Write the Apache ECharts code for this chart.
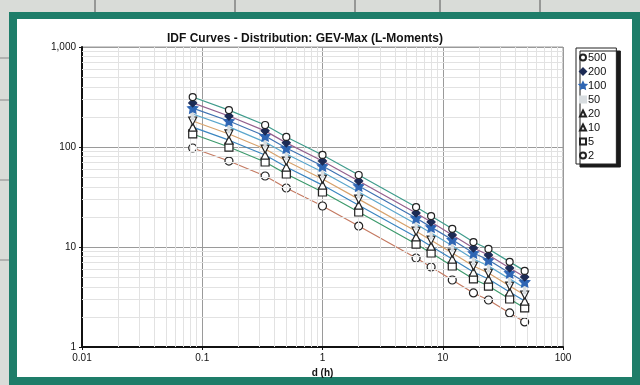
<!DOCTYPE html>
<html><head><meta charset="utf-8">
<script src="https://cdn.jsdelivr.net/npm/echarts@6/dist/echarts.min.js"></script>
<style>html,body{margin:0;padding:0;background:#fff}#c{width:640px;height:385px}</style>
</head><body><div id="c"></div>
<script>
// Durations (h)
const durations = [0.0833, 0.1667, 0.3333, 0.5, 1, 2, 6, 8, 12, 18, 24, 36, 48];
// Return periods (legend order)
const returnPeriods = ['500', '200', '100', '50', '20', '10', '5', '2'];
// Intensities
const i500 = [316, 234, 166, 126, 83.3, 52.5, 25.1, 20.4, 15.2, 11.2, 9.56, 7.10, 5.77];
const i200 = [276, 204, 145, 110, 72.5, 45.7, 21.9, 17.8, 13.2, 9.79, 8.32, 6.18, 5.02];
const i100 = [245, 182, 129, 97.6, 64.5, 40.7, 19.5, 15.8, 11.8, 8.71, 7.40, 5.50, 4.47];
const i50  = [214, 159, 112, 85.2, 56.3, 35.5, 17.0, 13.8, 10.3, 7.60, 6.46, 4.80, 3.90];
const i20  = [182, 135, 95.4, 72.4, 47.8, 30.1, 14.4, 11.7, 8.70, 6.45, 5.49, 4.07, 3.31];
const i10  = [158, 117, 83.1, 63.0, 41.6, 26.2, 12.6, 10.2, 7.58, 5.62, 4.78, 3.55, 2.88];
const i5   = [135, 99.9, 70.8, 53.7, 35.5, 22.4, 10.7, 8.71, 6.46, 4.79, 4.07, 3.02, 2.46];
const i2   = [97.7, 72.4, 51.3, 38.9, 25.7, 16.2, 7.76, 6.31, 4.68, 3.47, 2.95, 2.19, 1.78];
const xTicks = [0.01, 0.1, 1, 10, 100];
const yTicks = [1, 10, 100, 1000];

const seriesValues = [i500, i200, i100, i50, i20, i10, i5, i2];
const star = 'path://M0,-10L2.9,-4L9.5,-3.1L4.7,1.5L5.9,8.1L0,5L-5.9,8.1L-4.7,1.5L-9.5,-3.1L-2.9,-4Z';
const styles = [
  {line: '#3f9c8c', symbol: 'circle', size: 7, fill: '#fff', border: '#222', rot: 0},
  {line: '#94608e', symbol: 'diamond', size: 8, fill: '#1d2b55', border: '#1d2b55', rot: 0},
  {line: '#3f72b2', symbol: star, size: 10, fill: '#2f66b4', border: '#2f66b4', rot: 0},
  {line: '#5aa6cc', symbol: 'rect', size: [2, 8], fill: '#d8dde0', border: '#d8dde0', rot: 0},
  {line: '#d7a26c', symbol: 'triangle', size: 8, fill: '#fff', border: '#222', rot: 180},
  {line: '#3b86c0', symbol: 'triangle', size: 8, fill: '#fff', border: '#222', rot: 0},
  {line: '#3d9a6c', symbol: 'rect', size: 8, fill: '#fff', border: '#222', rot: 0},
  {line: '#c47a62', symbol: 'circle', size: 8, fill: '#fff', border: '#222', rot: 0}
];

const minorX = [], minorY = [];
[0.01, 0.1, 1, 10].forEach(b => { for (let k = 2; k <= 9; k++) minorX.push(+(b * k).toPrecision(3)); });
[1, 10, 100].forEach(b => { for (let k = 2; k <= 9; k++) minorY.push(b * k); });

const series = [{
  type: 'line', data: [], silent: true, z: 1,
  markLine: {
    silent: true, symbol: 'none', label: {show: false}, animation: false,
    lineStyle: {color: '#e2e2e2', width: 1, type: 'solid'},
    data: minorX.map(v => ({xAxis: v})).concat(minorY.map(v => ({yAxis: v})))
  }
}];
returnPeriods.forEach((name, i) => {
  const s = styles[i];
  series.push({
    name, type: 'line', z: 3 + (8 - i),
    data: durations.map((d, j) => [d, seriesValues[i][j]]),
    symbol: s.symbol, symbolSize: s.size, symbolRotate: s.rot, showAllSymbol: true,
    lineStyle: {color: s.line, width: 1.2},
    itemStyle: {color: s.fill, borderColor: s.border, borderWidth: 1.2},
    animation: false
  });
});

const chart = echarts.init(document.getElementById('c'), null, {renderer: 'canvas'});
chart.setOption({
  backgroundColor: '#fff',
  animation: false,
  textStyle: {fontFamily: 'Liberation Sans, Arial, sans-serif'},
  graphic: [
    {type: 'rect', z: -10, shape: {x: 0, y: 0, width: 640, height: 385}, style: {fill: '#d9dcd8'}},
    {type: 'rect', z: -9, shape: {x: 9, y: 12, width: 631, height: 373}, style: {fill: '#1e7d69'}},
    {type: 'rect', z: -8, shape: {x: 17, y: 19, width: 615, height: 358}, style: {fill: '#ffffff'}},
    {type: 'line', z: -9, shape: {x1: 95, y1: 0, x2: 95, y2: 12}, style: {stroke: '#555', lineWidth: 1}},
    {type: 'line', z: -9, shape: {x1: 235, y1: 0, x2: 235, y2: 12}, style: {stroke: '#555', lineWidth: 1}},
    {type: 'line', z: -9, shape: {x1: 355, y1: 0, x2: 355, y2: 12}, style: {stroke: '#555', lineWidth: 1}},
    {type: 'line', z: -9, shape: {x1: 440, y1: 0, x2: 440, y2: 12}, style: {stroke: '#555', lineWidth: 1}},
    {type: 'line', z: -9, shape: {x1: 540, y1: 0, x2: 540, y2: 12}, style: {stroke: '#555', lineWidth: 1}},
    {type: 'line', z: -9, shape: {x1: 0, y1: 58, x2: 9, y2: 58}, style: {stroke: '#888', lineWidth: 1}},
    {type: 'line', z: -9, shape: {x1: 0, y1: 100, x2: 9, y2: 100}, style: {stroke: '#888', lineWidth: 1}},
    {type: 'line', z: -9, shape: {x1: 0, y1: 180, x2: 9, y2: 180}, style: {stroke: '#888', lineWidth: 1}},
    {type: 'line', z: -9, shape: {x1: 0, y1: 260, x2: 9, y2: 260}, style: {stroke: '#888', lineWidth: 1}}
  ],
  title: {
    text: 'IDF Curves - Distribution: GEV-Max (L-Moments)',
    left: 300, top: 28, textAlign: 'center',
    textStyle: {fontSize: 12, fontWeight: 'bold', color: '#111', fontFamily: 'Liberation Sans, Arial, sans-serif'}
  },
  legend: {
    orient: 'vertical', left: 576, top: 48,
    data: returnPeriods.map((n, i) => ({name: n, icon: styles[i].symbol})),
    itemWidth: 6, itemHeight: 6, itemGap: 3,
    padding: [4, 10, 3, 3],
    backgroundColor: '#fff', borderColor: '#222', borderWidth: 1,
    shadowColor: '#1a1a1a', shadowOffsetX: 4, shadowOffsetY: 3, shadowBlur: 0,
    textStyle: {fontSize: 11, lineHeight: 10, color: '#111', padding: [0, 0, 0, -3]}
  },
  grid: {left: 82, right: 77, top: 47, bottom: 38, show: true, borderColor: '#9a9a9a', borderWidth: 1},
  xAxis: {
    type: 'log', logBase: 10, min: xTicks[0], max: xTicks[xTicks.length - 1],
    name: 'd (h)', nameLocation: 'middle', nameGap: 21,
    nameTextStyle: {fontSize: 10, color: '#111', fontWeight: 'bold'},
    axisLine: {show: true, lineStyle: {color: '#111', width: 2}},
    axisTick: {show: true, length: 3, lineStyle: {color: '#111'}},
    axisLabel: {fontSize: 10, color: '#111', margin: 6, formatter: v => String(v)},
    splitLine: {show: true, lineStyle: {color: '#9a9a9a', width: 1}}
  },
  yAxis: {
    type: 'log', logBase: 10, min: yTicks[0], max: yTicks[yTicks.length - 1],
    axisLine: {show: true, lineStyle: {color: '#111', width: 2}},
    axisTick: {show: true, length: 3, lineStyle: {color: '#111'}},
    axisLabel: {fontSize: 10, color: '#111', margin: 6, formatter: v => Number(v).toLocaleString('en-US')},
    splitLine: {show: true, lineStyle: {color: '#9a9a9a', width: 1}}
  },
  series
});
</script></body></html>
